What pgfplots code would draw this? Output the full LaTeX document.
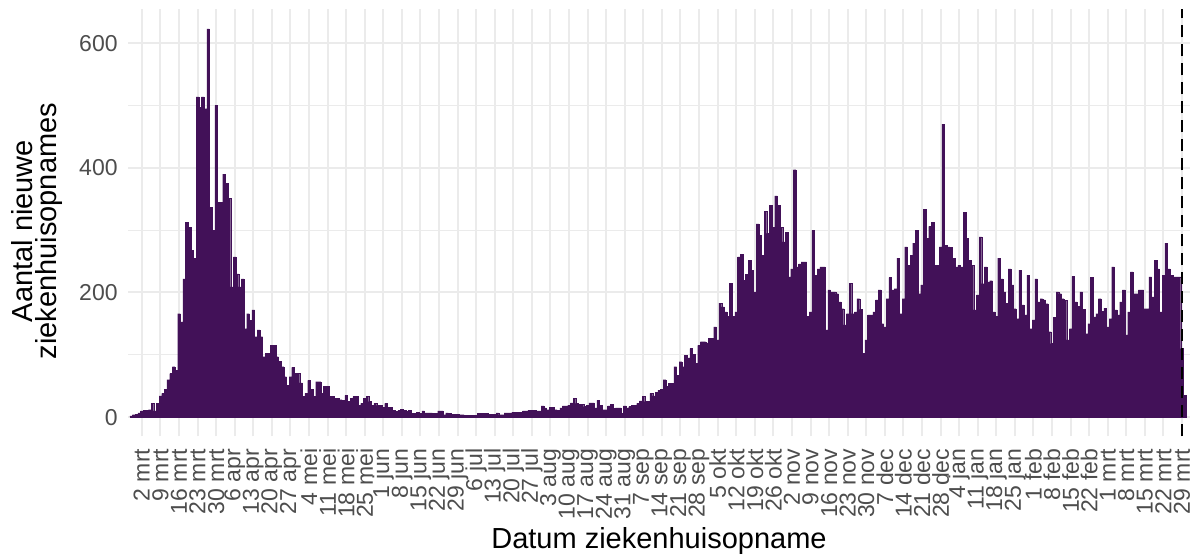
\documentclass[border=0pt]{standalone}
\usepackage{pgfplots}
\pgfplotsset{compat=1.18}
\usepackage{pgfplotstable}
\usepackage{fontspec}
\setmainfont{Liberation Sans}
\definecolor{barcol}{RGB}{66,17,88}
\definecolor{gridcol}{RGB}{235,235,235}
\definecolor{tickcol}{RGB}{77,77,77}
\pgfplotstableread{
d v
-4 2
-3 4
-2 5
-1 7
0 10
1 11
2 11
3 12
4 22
5 10
6 22
7 34
8 38
9 45
10 60
11 70
12 81
13 75
14 166
15 153
16 222
17 313
18 305
19 268
20 255
21 514
22 497
23 514
24 495
25 623
26 337
27 300
28 500
29 345
30 345
31 390
32 375
33 351
34 209
35 257
36 230
37 209
38 222
39 142
40 166
41 155
42 172
43 129
44 140
45 129
46 97
47 102
48 102
49 115
50 115
51 97
52 90
53 81
54 65
55 51
56 65
57 80
58 70
59 70
60 55
61 33
62 38
63 59
64 45
65 33
66 57
67 57
68 38
69 49
70 49
71 33
72 33
73 30
74 30
75 28
76 27
77 35
78 25
79 30
80 33
81 33
82 19
83 22
84 30
85 33
86 25
87 19
88 22
89 19
90 19
91 16
92 22
93 16
94 16
95 11
96 9
97 11
98 13
99 11
100 9
101 11
102 6
103 6
104 8
105 6
106 10
107 7
108 7
109 7
110 6
111 6
112 10
113 10
114 4
115 7
116 6
117 5
118 5
119 5
120 4
121 4
122 3
123 3
124 3
125 3
126 3
127 6
128 6
129 6
130 6
131 5
132 5
133 5
134 7
135 4
136 4
137 7
138 7
139 7
140 8
141 8
142 8
143 8
144 10
145 10
146 11
147 11
148 11
149 10
150 10
151 18
152 15
153 12
154 16
155 16
156 12
157 11
158 15
159 18
160 18
161 19
162 23
163 30
164 22
165 21
166 21
167 17
168 19
169 23
170 23
171 15
172 27
173 19
174 12
175 12
176 18
177 21
178 14
179 15
180 15
181 6
182 18
183 15
184 17
185 19
186 19
187 22
188 26
189 33
190 25
191 25
192 38
193 34
194 40
195 43
196 45
197 60
198 49
199 54
200 54
201 81
202 67
203 89
204 81
205 99
206 95
207 110
208 101
209 86
210 115
211 121
212 121
213 119
214 126
215 126
216 145
217 124
218 183
219 177
220 169
221 162
222 215
223 162
224 169
225 257
226 261
227 220
228 229
229 252
230 236
231 201
232 310
233 292
234 260
235 330
236 295
237 340
238 305
239 355
240 340
241 305
242 281
243 297
244 225
245 238
246 397
247 241
248 246
249 249
250 249
251 162
252 169
253 300
254 228
255 238
256 241
257 241
258 140
259 204
260 201
261 201
262 198
263 185
264 174
265 148
266 166
267 215
268 166
269 169
270 190
271 173
272 102
273 124
274 164
275 164
276 169
277 188
278 204
279 150
280 145
281 190
282 224
283 204
284 206
285 255
286 166
287 190
288 273
289 244
290 260
291 279
292 300
293 198
294 212
295 333
296 287
297 306
298 313
299 244
300 244
301 273
302 470
303 276
304 273
305 272
306 255
307 241
308 244
309 241
310 329
311 287
312 252
313 244
314 172
315 196
316 289
317 214
318 241
319 217
320 219
321 169
322 162
323 255
324 222
325 201
326 183
327 238
328 212
329 174
330 158
331 236
332 180
333 164
334 228
335 142
336 156
337 222
338 185
339 190
340 188
341 182
342 137
343 118
344 160
345 201
346 198
347 190
348 187
349 124
350 142
351 226
352 185
353 178
354 201
355 173
356 134
357 150
358 224
359 161
360 166
361 190
362 170
363 175
364 145
365 158
366 241
367 172
368 164
369 185
370 204
371 132
372 169
373 233
374 198
375 198
376 204
377 204
378 174
379 174
380 225
381 193
382 252
383 238
384 169
385 228
386 279
387 238
388 228
389 225
390 225
391 225
392 110
393 35
}\admissions

\begin{document}
\begin{tikzpicture}
\begin{axis}[
  x=1.327pt, y=0.31167pt,
  xmin=-5.2, xmax=395, ymin=-31, ymax=654,
  axis line style={draw=none},
  major tick length=0pt, minor tick length=0pt,
  xtick={0,7,...,392},
  xticklabels={2 mrt,9 mrt,16 mrt,23 mrt,30 mrt,6 apr,13 apr,20 apr,27 apr,4 mei,11 mei,18 mei,25 mei,1 jun,8 jun,15 jun,22 jun,29 jun,6 jul,13 jul,20 jul,27 jul,3 aug,10 aug,17 aug,24 aug,31 aug,7 sep,14 sep,21 sep,28 sep,5 okt,12 okt,19 okt,26 okt,2 nov,9 nov,16 nov,23 nov,30 nov,7 dec,14 dec,21 dec,28 dec,4 jan,11 jan,18 jan,25 jan,1 feb,8 feb,15 feb,22 feb,1 mrt,8 mrt,15 mrt,22 mrt,29 mrt},
  ytick={0,200,400,600},
  minor ytick={100,300,500},
  xmajorgrids=true, ymajorgrids=true, yminorgrids=true,
  major grid style={draw=gridcol, line width=1pt},
  minor grid style={draw=gridcol, line width=0.6pt},
  /pgf/number format/assume math mode=true,
  tick label style={font=\fontsize{11.5}{12}\selectfont, text=tickcol},
  xticklabel style={rotate=90, anchor=east, inner sep=0pt, xshift=-6pt},
  yticklabel style={anchor=east, inner sep=0pt, xshift=-5pt},
  xlabel={Datum ziekenhuisopname},
  ylabel={Aantal nieuwe\\ziekenhuisopnames},
  label style={font=\fontsize{14.5}{12}\selectfont, text=black},
  xlabel style={at={(axis description cs:0.5,-0.2623)}, anchor=base},
  ylabel style={at={(axis description cs:-0.0857,0.481)}, anchor=center, align=center},
]
\addplot[ybar, bar width=1, fill=barcol, draw=barcol, line width=0.1pt] table[x=d, y=v] {\admissions};
\addplot[black, line width=0.9pt, dash pattern=on 6pt off 3.5pt] coordinates {(392,-31) (392,654)};
\end{axis}
\pgfresetboundingbox
\useasboundingbox ([xshift=-64pt,yshift=-59.75pt]current axis.south west) rectangle ([xshift=5pt,yshift=4.75pt]current axis.north east);
\end{tikzpicture}
\end{document}
